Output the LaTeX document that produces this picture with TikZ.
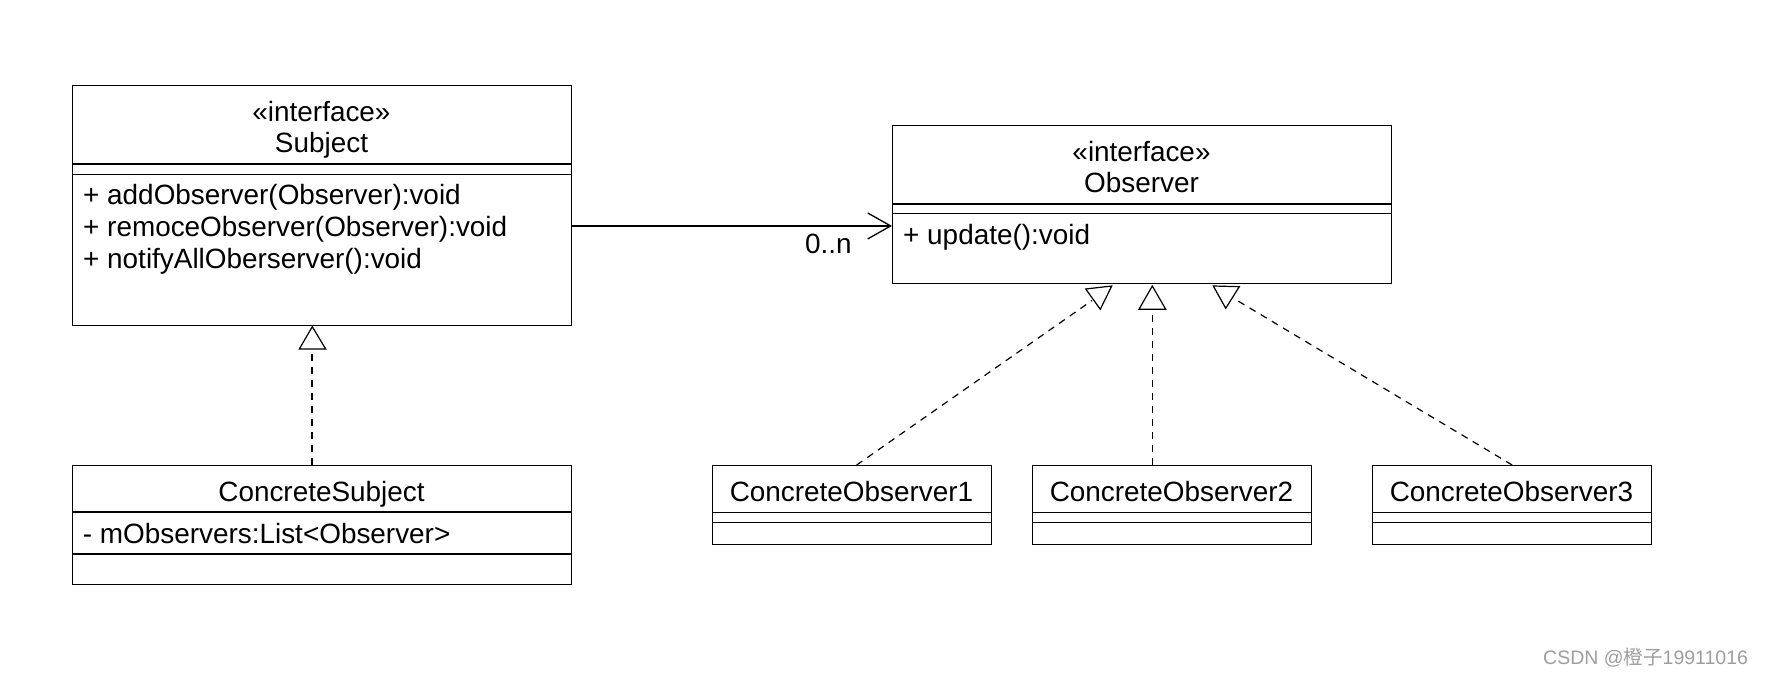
\documentclass[tikz,border=0pt]{standalone}
\usepackage{fontspec}
\setmainfont{Liberation Sans}
\newfontfamily\cjk{Noto Sans CJK SC}
\usetikzlibrary{arrows.meta}
\begin{document}
\begin{tikzpicture}[x=1pt,y=-1pt,
  box/.style={draw, line width=1.3pt, rectangle, inner sep=0pt, anchor=north west},
  sepline/.style={line width=1.3pt},
  lbl/.style={inner sep=0pt, font=\fontsize{27.9}{33}\selectfont},
  real/.style={line width=1.2pt, dash pattern=on 7pt off 6pt},
  tri/.style={draw, line width=1.2pt, fill=white, line join=miter},
  assoc/.style={line width=1.3pt, -{Straight Barb[length=23pt,width=26pt,line width=1.3pt]}}
]
\useasboundingbox[fill=white] (0,0) rectangle (1766,676);

% Subject
\node[box, minimum width=499pt, minimum height=240pt] (subj) at (72,85) {};
\draw[sepline] (72,164) -- (571,164);
\draw[sepline] (72,174.5) -- (571,174.5);
\node[lbl, anchor=base] (subjst) at (321.5,121.5) {«interface»};
\node[lbl, anchor=base] (subjname) at (321.5,153) {Subject};
\node[lbl, anchor=base west] (sm1) at (83,205) {+ addObserver(Observer):void};
\node[lbl, anchor=base west] (sm2) at (83,236.7) {+ remoceObserver(Observer):void};
\node[lbl, anchor=base west] (sm3) at (83,268.4) {+ notifyAllOberserver():void};

% Observer
\node[box, minimum width=499pt, minimum height=158pt] (obs) at (892,125) {};
\draw[sepline] (892,204) -- (1391,204);
\draw[sepline] (892,213.5) -- (1391,213.5);
\node[lbl, anchor=base] (obsst) at (1141.5,161.5) {«interface»};
\node[lbl, anchor=base] (obsname) at (1141.5,193) {Observer};
\node[lbl, anchor=base west] (om1) at (903,245) {+ update():void};

% ConcreteSubject
\node[box, minimum width=499pt, minimum height=119pt] (cs) at (72,465) {};
\draw[sepline] (72,512) -- (571,512);
\draw[sepline] (72,554) -- (571,554);
\node[lbl, anchor=base] (csname) at (321.5,501.5) {ConcreteSubject};
\node[lbl, anchor=base west] (csa1) at (82.7,543.2) {- mObservers:List<Observer>};

% ConcreteObservers
\node[box, minimum width=279pt, minimum height=79pt] (co1) at (712,465) {};
\node[box, minimum width=279pt, minimum height=79pt] (co2) at (1032,465) {};
\node[box, minimum width=279pt, minimum height=79pt] (co3) at (1372,465) {};
\foreach \xl/\xr in {712/991, 1032/1311, 1372/1651} {
  \draw[sepline] (\xl,512.5) -- (\xr,512.5);
  \draw[sepline] (\xl,522.6) -- (\xr,522.6);
}
\node[lbl, anchor=base] (co1name) at (851.5,501.5) {ConcreteObserver1};
\node[lbl, anchor=base] (co2name) at (1171.5,501.5) {ConcreteObserver2};
\node[lbl, anchor=base] (co3name) at (1511.5,501.5) {ConcreteObserver3};

% association
\coordinate (arrS) at ([yshift=-20.3pt]subj.east);
\draw[assoc] (arrS) -- (arrS -| obs.west);
\node[lbl, anchor=base west] (mult) at (805,253.5) {0..n};

% realizations
\coordinate (t0b) at (312,349);
\draw[real] (t0b |- cs.north) -- (t0b);
\draw[tri] (312.3,326.7) -- (325.7,349) -- (299.3,349) -- cycle;

\coordinate (t2b) at (1152.3,309.3);
\draw[real] (t2b |- co2.north) -- (t2b);
\draw[tri] (1152.3,286) -- (1165.7,309.3) -- (1139,309.3) -- cycle;

\coordinate (t1b) at (1092,300.5);
\draw[real] ([xshift=4.5pt]co1.north) -- (t1b);
\draw[tri] (1085.7,289) -- (1111.7,286) -- (1100.3,309.3) -- cycle;

\coordinate (t3b) at (1235.5,299.5);
\draw[real] (co3.north) -- (t3b);
\draw[tri] (1213.3,286) -- (1239.3,286.7) -- (1225.7,308.3) -- cycle;

% watermark
\node[anchor=base west, inner sep=0pt, text=black!38, font=\fontsize{19.5}{23}\selectfont] (wm) at (1543,664.5) {CSDN @{\cjk 橙子}19911016};
\end{tikzpicture}
\end{document}
